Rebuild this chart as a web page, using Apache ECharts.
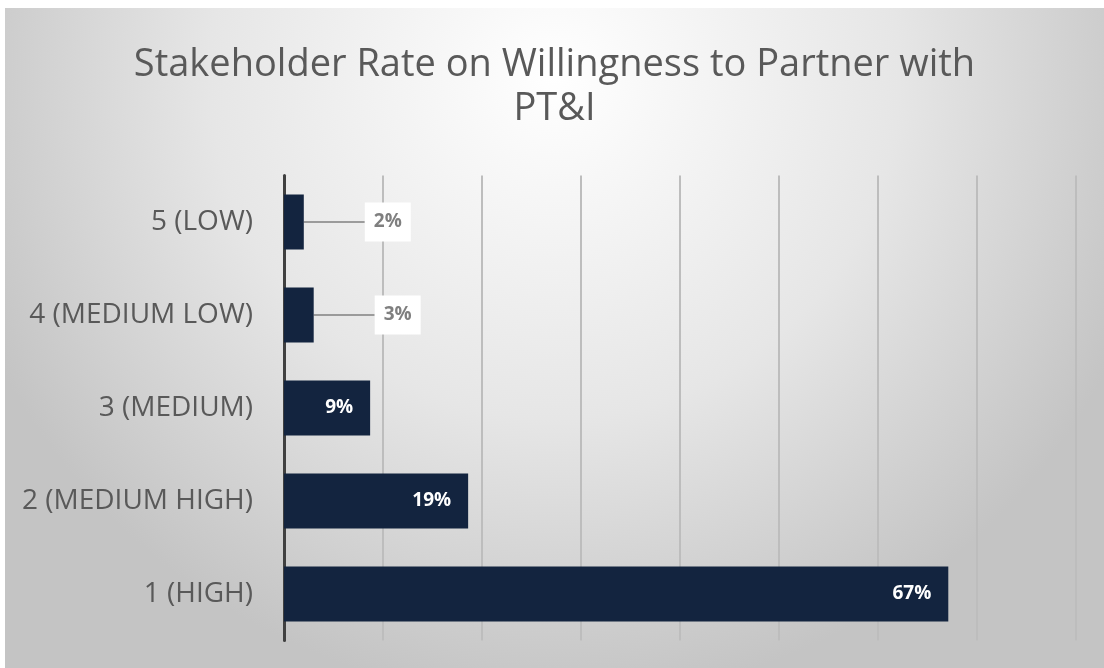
<!DOCTYPE html>
<html>
<head>
<meta charset="utf-8">
<script src="https://cdn.jsdelivr.net/npm/echarts@6/dist/echarts.min.js"></script>
<style>
  html, body { margin: 0; padding: 0; background: #fff; }
  #chart { position: absolute; left: 5px; top: 8px; width: 1099px; height: 660px; }
</style>
</head>
<body>
<div id="chart"></div>
<script>
// categories bottom -> top (category axis on y runs upward)
const categories = ['1 (HIGH)', '2 (MEDIUM HIGH)', '3 (MEDIUM)', '4 (MEDIUM LOW)', '5 (LOW)'];
const shares = [67.1, 18.6, 8.7, 3, 2];
const outsideLimit = 5; // small bars get their label outside with a leader line

const chart = echarts.init(document.getElementById('chart'));

const barData = shares.map(function (v) {
  if (v >= outsideLimit) return v;
  return {
    value: v,
    label: {
      position: 'right',
      color: '#7f7f7f',
      backgroundColor: '#ffffff',
      padding: [10, 9]
    }
  };
});

chart.setOption({
  animation: false,
  backgroundColor: {
    type: 'radial', x: 0.5, y: 0.1, r: 0.95,
    colorStops: [
      { offset: 0, color: '#ffffff' },
      { offset: 0.55, color: '#e6e6e6' },
      { offset: 1, color: '#c4c4c4' }
    ]
  },
  title: {
    text: 'Stakeholder Rate on Willingness to Partner with\nPT&I',
    left: 'center',
    top: 30,
    textStyle: {
      fontFamily: 'Open Sans',
      fontSize: 38,
      fontWeight: 'normal',
      color: '#595959',
      lineHeight: 44
    }
  },
  grid: { left: 279, right: 28, top: 167.5, bottom: 27.5 },
  xAxis: {
    type: 'value',
    min: 0,
    max: 80,
    interval: 10,
    axisLabel: { show: false },
    axisLine: { show: false },
    axisTick: { show: false },
    splitLine: { lineStyle: { color: '#bdbdbd', width: 2 } }
  },
  yAxis: {
    type: 'category',
    data: categories,
    axisLine: { lineStyle: { color: '#404040', width: 3 } },
    axisTick: { show: false },
    axisLabel: {
      margin: 31,
      fontFamily: 'Open Sans',
      fontSize: 28,
      color: '#595959'
    }
  },
  series: [{
    type: 'bar',
    data: barData,
    barCategoryGap: '41%',
    itemStyle: { color: '#13243f' },
    label: {
      show: true,
      position: 'insideRight',
      distance: 17,
      fontFamily: 'Open Sans',
      fontSize: 19,
      fontWeight: 'bold',
      color: '#ffffff',
      formatter: function (p) { return Math.round(p.value) + '%'; }
    },
    labelLine: { show: true, lineStyle: { color: '#808080', width: 1.5 } },
    labelLayout: function (p) {
      if (shares[p.dataIndex] < outsideLimit) return { dx: 44 };
      return {};
    }
  }]
});
</script>
</body>
</html>
